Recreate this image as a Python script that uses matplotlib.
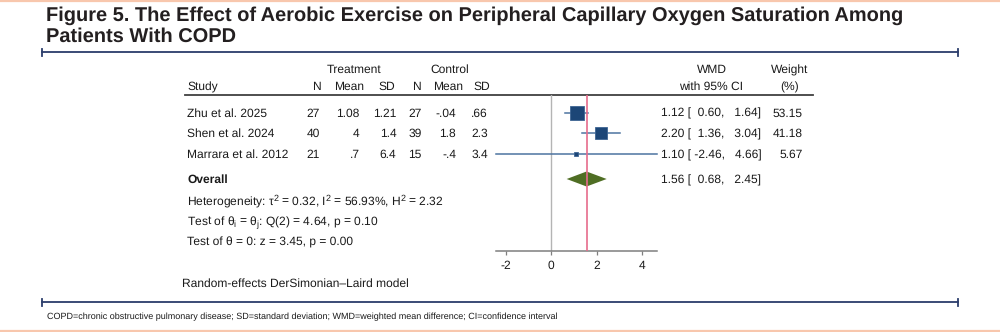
import matplotlib
matplotlib.use('Agg')
import matplotlib.pyplot as plt
from matplotlib import font_manager
import numpy as np

# study-level data
studies = ['Zhu et al. 2025', 'Shen et al. 2024', 'Marrara et al. 2012']
trt_n = [27, 40, 21]
trt_mean = [1.08, 4, 0.7]
trt_sd = [1.21, 1.4, 6.4]
ctl_n = [27, 39, 15]
ctl_mean = [-0.04, 1.8, -0.4]
ctl_sd = [0.66, 2.3, 3.4]
wmd = [1.12, 2.20, 1.10]
ci_lo = [0.60, 1.36, -2.46]
ci_hi = [1.64, 3.04, 4.66]
weight = [53.15, 41.18, 5.67]

# pooled estimate
pooled = 1.56
pooled_lo = 0.68
pooled_hi = 2.45

xticks = [-2, 0, 2, 4]

title = ('Figure 5. The Effect of Aerobic Exercise on Peripheral Capillary Oxygen Saturation Among\n'
         'Patients With COPD')
het_lines = [
    'Heterogeneity: τ$^\\mathrm{2}$ = 0.32, I$^\\mathrm{2}$ = 56.93%, H$^\\mathrm{2}$ = 2.32',
    'Test of θ$_\\mathrm{i}$ = θ$_\\mathrm{j}$: Q(2) = 4.64, p = 0.10',
    'Test of θ = 0: z = 3.45, p = 0.00',
]
model_note = 'Random-effects DerSimonian–Laird model'
footnote = ('COPD=chronic obstructive pulmonary disease; SD=standard deviation; '
            'WMD=weighted mean difference; CI=confidence interval')

names = {f.name for f in font_manager.fontManager.ttflist}
narrow = 'Liberation Sans Narrow' if 'Liberation Sans Narrow' in names else 'Liberation Sans'
plt.rcParams['font.family'] = ['Liberation Sans', 'DejaVu Sans']
plt.rcParams['mathtext.fontset'] = 'custom'
plt.rcParams['mathtext.rm'] = 'Liberation Sans'
plt.rcParams['text.hinting'] = 'no_hinting'
plt.rcParams['text.hinting_factor'] = 1

W, H = 1000, 332
FS = 8.8
TXT = '#1a1a1a'
NAVY = '#2b3d6b'


def stata(v):
    s = f'{v:g}'
    return s.replace('0.', '.', 1) if s.startswith(('0.', '-0.')) else s


fig = plt.figure(figsize=(W / 100, H / 100), dpi=100)
page = fig.add_axes([0, 0, 1, 1])
page.set_xlim(0, W)
page.set_ylim(H, 0)
page.axis('off')

# salmon frame lines
page.plot([0, W], [0.8, 0.8], color='#f8c7ad', lw=1.6, solid_capstyle='butt')
page.plot([0, W], [331.2, 331.2], color='#f8c7ad', lw=1.6, solid_capstyle='butt')

# rules with end caps
for ry in (52.3, 302.3):
    page.plot([41.5, 958.3], [ry, ry], color=NAVY, lw=1.3)
    for ex in (41.5, 958.3):
        page.plot([ex, ex], [ry - 3.5, ry + 3.5], color=NAVY, lw=1.3)


def fit_text(x, y, s, target_w, **kw):
    # measure at a large size so the scaling is stable
    t = page.text(x, y, s, **kw)
    t.set_fontsize(24)
    r = fig.canvas.get_renderer()
    w = t.get_window_extent(r).width
    t.set_fontsize(24 * target_w / w)
    return t


t1 = fit_text(45.5, 20.7, title.split('\n')[0], 840, fontweight='bold',
              family=narrow, color='#231f20', va='baseline')
page.text(45.5, 41.7, title.split('\n')[1], fontsize=t1.get_fontsize(),
          fontweight='bold', family=narrow, color='#231f20', va='baseline')
fit_text(47, 315.5, footnote, 530, family=narrow, color=TXT, va='center_baseline')

kw = dict(fontsize=FS, color=TXT, va='center_baseline')

# column headers
page.text(354, 69, 'Treatment', ha='center', **kw)
page.text(450, 69, 'Control', ha='center', **kw)
page.text(187, 85.7, 'Study', ha='left', **kw)
for hx, lab in zip([321, 364, 395, 421, 463, 490], ['N', 'Mean', 'SD', 'N', 'Mean', 'SD']):
    page.text(hx, 85.7, lab, ha='right', **kw)
page.text(712, 69, 'WMD', ha='center', **kw)
page.text(711, 85.7, 'with 95% CI', ha='center', **kw)
page.text(790, 69, 'Weight', ha='center', **kw)
page.text(790, 85.7, '(%)', ha='center', **kw)
page.plot([185, 813], [94.5, 94.5], color='#404040', lw=1.3)

row_y = [112.5, 133, 154]
pooled_y = 179

for i, y in enumerate(row_y):
    page.text(187, y, studies[i], ha='left', **kw)
    cols = [str(trt_n[i]), stata(trt_mean[i]), stata(trt_sd[i]),
            str(ctl_n[i]), stata(ctl_mean[i]), stata(ctl_sd[i])]
    for cx, s in zip([320, 359.5, 396.5, 421.5, 456, 488], cols):
        page.text(cx, y, s, ha='right', **kw)
    page.text(661, y, f'{wmd[i]:.2f} [{ci_lo[i]:6.2f}, {ci_hi[i]:6.2f}]', ha='left', **kw)
    page.text(803, y, f'{weight[i]:.2f}', ha='right', **kw)

page.text(187, pooled_y, 'Overall', ha='left', fontweight='bold', **kw)
page.text(661, pooled_y, f'{pooled:.2f} [{pooled_lo:6.2f}, {pooled_hi:6.2f}]', ha='left', **kw)

for y, s in zip([199, 220, 240.7], het_lines):
    page.text(187, y, s, ha='left', **kw)
page.text(182, 283, model_note, ha='left', **kw)

# forest panel: x in WMD units, y in page pixels
x0_px, unit_px = 551.3, 22.6
xmin, xmax = -2.5, 4.7
top_px, axis_px = 94.5, 250.7
ax = fig.add_axes([(x0_px + xmin * unit_px) / W, (H - axis_px) / H,
                   (xmax - xmin) * unit_px / W, (axis_px - top_px) / H])
ax.set_facecolor('none')
ax.set_xlim(xmin, xmax)
ax.set_ylim(axis_px, top_px)
for side in ('top', 'right', 'left'):
    ax.spines[side].set_visible(False)
ax.spines['bottom'].set_color('#7f7f7f')
ax.spines['bottom'].set_linewidth(1.1)
ax.spines['bottom'].set_bounds(min(ci_lo), max(ci_hi))
ax.set_yticks([])
ax.set_xticks(xticks)
ax.set_xticklabels([str(t) for t in xticks])
ax.tick_params(axis='x', length=3, width=0.9, color='#7f7f7f', labelsize=FS,
               labelcolor=TXT, pad=4)

ax.axvline(0, color='#b4b4b4', lw=1.0, zorder=1)
ax.axvline(pooled, color='#e66c8c', lw=1.2, zorder=4)

for i, y in enumerate(row_y):
    ax.plot([ci_lo[i], ci_hi[i]], [y, y], color='#4d74a0', lw=1.1, zorder=2)
    side = 14.0 * np.sqrt(weight[i] / max(weight)) * 0.72
    ax.plot(wmd[i], y, marker='s', ms=side, mfc='#1c4677', mec='#3d6593', mew=0.6, zorder=3)

ax.fill([pooled_lo, pooled, pooled_hi, pooled],
        [pooled_y, pooled_y - 7.5, pooled_y, pooled_y + 7.5],
        color='#4f6e24', lw=0, zorder=3)

fig.savefig('out.png', dpi=100)
